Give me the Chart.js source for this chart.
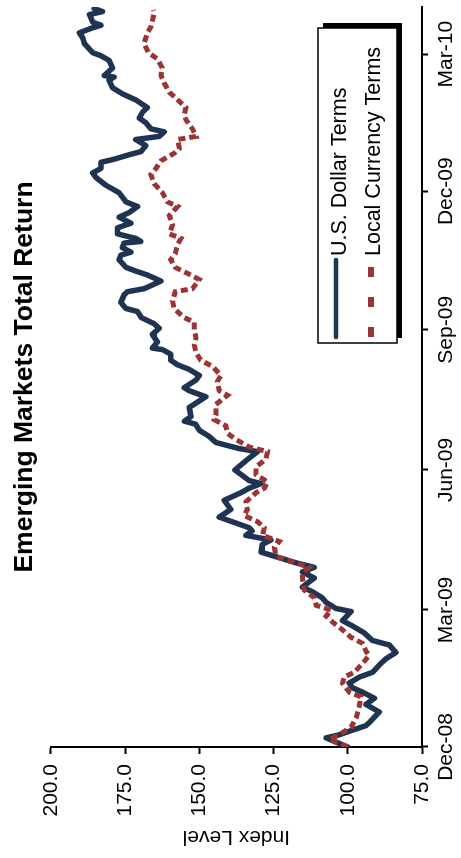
<!DOCTYPE html>
<html>
<head>
<meta charset="utf-8">
<script src="https://cdn.jsdelivr.net/npm/chart.js@4.4.1/dist/chart.umd.min.js"></script>
<style>
  html, body { margin: 0; padding: 0; background: #fff; overflow: hidden; }
  body { width: 461px; height: 858px; position: relative; }
  /* the chart is laid out landscape and turned a quarter turn to stand upright */
  #frame {
    position: absolute; left: 0; top: 0;
    width: 858px; height: 461px;
    transform-origin: 0 0;
    transform: translate(0, 858px) rotate(-90deg);
  }
  canvas { display: block; }
</style>
</head>
<body>
<div id="frame"><canvas id="chart" width="858" height="461"></canvas></div>
<script>
// Emerging markets total return index, rebased to 100 on 1 Dec 2008
const usdDates = [
  "2008-12-01","2008-12-07","2008-12-09","2008-12-12","2008-12-15","2008-12-17","2008-12-24","2008-12-29",
  "2009-01-02","2009-01-06","2009-01-09","2009-01-12","2009-01-16","2009-01-19","2009-01-25","2009-01-28",
  "2009-02-01","2009-02-06","2009-02-09","2009-02-14","2009-02-19","2009-02-22","2009-02-28",
  "2009-03-02","2009-03-06","2009-03-09","2009-03-13","2009-03-16","2009-03-22","2009-03-26","2009-03-29",
  "2009-04-01","2009-04-05","2009-04-08","2009-04-13","2009-04-16","2009-04-19","2009-04-22","2009-04-24",
  "2009-05-01","2009-05-06","2009-05-12","2009-05-17","2009-05-20","2009-05-23","2009-05-25",
  "2009-06-01","2009-06-07","2009-06-13","2009-06-15","2009-06-19","2009-06-23","2009-06-27",
  "2009-07-01","2009-07-03","2009-07-06","2009-07-12","2009-07-19","2009-07-23","2009-07-25","2009-07-30",
  "2009-08-02","2009-08-06","2009-08-09","2009-08-12","2009-08-16","2009-08-19","2009-08-20","2009-08-24","2009-08-29",
  "2009-09-02","2009-09-05","2009-09-09","2009-09-13","2009-09-15","2009-09-19","2009-09-24","2009-09-26","2009-09-28",
  "2009-10-03","2009-10-07","2009-10-10","2009-10-12","2009-10-17","2009-10-20","2009-10-22","2009-10-25","2009-10-28","2009-10-29","2009-10-31",
  "2009-11-03","2009-11-07","2009-11-10","2009-11-14","2009-11-17","2009-11-21","2009-11-24","2009-11-30",
  "2009-12-05","2009-12-10","2009-12-13","2009-12-16","2009-12-20","2009-12-22","2009-12-25","2009-12-27","2009-12-31",
  "2010-01-04","2010-01-06","2010-01-09","2010-01-11","2010-01-15","2010-01-18","2010-01-22","2010-01-25","2010-01-30",
  "2010-02-03","2010-02-07","2010-02-12","2010-02-14","2010-02-15","2010-02-20","2010-02-25","2010-02-28",
  "2010-03-02","2010-03-08","2010-03-12","2010-03-15","2010-03-18","2010-03-20","2010-03-22","2010-03-27","2010-03-29","2010-03-31"
];
const usdValues = [
  100.0,107.3,102.9,98.5,93.9,92.8,89.4,93.9,
  91.0,95.0,98.5,99.5,96.0,91.7,88.8,87.1,
  83.8,86.0,91.7,94.5,98.9,101.8,98.9,
  104.0,107.3,108.6,111.9,115.3,111.3,115.3,111.3,
  117.5,124.2,129.2,128.8,125.9,134.3,132.2,133.2,
  143.3,139.4,141.6,136.0,133.2,129.2,133.2,
  138.0,134.3,130.4,136.6,144.4,146.7,150.0,
  151.2,155.0,152.8,153.4,147.8,153.4,155.1,151.1,
  150.0,153.4,157.3,159.6,159.6,162.4,165.8,164.1,165.8,
  163.5,165.2,169.5,170.8,174.7,176.4,175.3,174.2,168.6,
  162.9,167.5,172.0,174.7,177.0,176.4,173.0,175.9,175.3,169.7,171.4,
  177.5,177.5,173.0,177.0,173.6,170.8,174.7,177.0,
  181.5,184.8,185.9,183.1,183.1,178.7,173.6,169.7,168.0,
  171.4,163.5,161.8,166.3,168.0,170.2,169.1,167.5,171.4,
  175.9,179.2,180.4,178.7,182.0,179.2,180.4,183.1,
  185.9,188.7,189.3,190.4,186.5,183.1,185.9,187.0,182.6,185.4
];

const localDates = [
  "2008-12-01","2008-12-06","2008-12-09","2008-12-14","2008-12-20","2008-12-28",
  "2009-01-03","2009-01-06","2009-01-12","2009-01-16","2009-01-19","2009-01-25","2009-01-30",
  "2009-02-02","2009-02-07","2009-02-11","2009-02-16","2009-02-21","2009-02-25",
  "2009-03-01","2009-03-04","2009-03-09","2009-03-14","2009-03-21","2009-03-25","2009-03-29",
  "2009-04-01","2009-04-05","2009-04-11","2009-04-15","2009-04-19","2009-04-24","2009-04-28",
  "2009-05-02","2009-05-06","2009-05-11","2009-05-17","2009-05-20","2009-05-24","2009-05-29",
  "2009-06-03","2009-06-08","2009-06-13","2009-06-16","2009-06-21","2009-06-25","2009-06-30",
  "2009-07-04","2009-07-07","2009-07-14","2009-07-20","2009-07-23","2009-07-29",
  "2009-08-02","2009-08-08","2009-08-12","2009-08-17","2009-08-22","2009-08-27",
  "2009-09-01","2009-09-06","2009-09-09","2009-09-15","2009-09-20","2009-09-26","2009-09-28",
  "2009-10-04","2009-10-08","2009-10-12","2009-10-17","2009-10-21","2009-10-27","2009-10-31",
  "2009-11-03","2009-11-09","2009-11-15","2009-11-21","2009-11-24","2009-11-30",
  "2009-12-06","2009-12-12","2009-12-16","2009-12-21","2009-12-26","2009-12-29",
  "2010-01-04","2010-01-06","2010-01-11","2010-01-17","2010-01-20","2010-01-25","2010-01-31",
  "2010-02-04","2010-02-10","2010-02-15","2010-02-20","2010-02-26",
  "2010-03-02","2010-03-08","2010-03-15","2010-03-19","2010-03-23","2010-03-28","2010-03-30"
];
const localValues = [
  100.0,106.2,102.9,98.9,97.2,96.1,
  95.6,99.5,101.8,101.2,97.8,95.0,92.8,
  93.9,95.0,98.9,101.8,105.1,107.3,
  105.6,110.6,111.3,114.6,115.2,115.2,113.0,
  117.5,124.2,124.7,123.1,128.7,128.1,130.4,
  134.9,133.8,134.3,130.9,128.1,127.0,130.9,
  130.9,127.6,127.0,133.2,137.7,140.5,141.1,
  145.0,144.4,144.4,140.5,143.3,143.9,
  142.7,145.6,149.5,151.1,151.7,151.1,
  151.7,151.7,155.1,158.5,159.0,158.1,152.3,
  150.0,153.9,158.1,159.6,158.1,157.3,156.2,
  160.1,159.0,160.1,157.3,160.7,162.4,
  165.2,166.3,164.6,162.9,158.4,156.7,
  157.3,151.1,152.3,154.5,155.1,154.5,157.8,
  160.1,161.8,162.9,162.5,164.1,
  167.1,168.6,167.5,166.3,165.8,165.2,165.5
];

const seriesNames = ["U.S. Dollar Terms", "Local Currency Terms"];
const tickDates = ["2008-12-01", "2009-03-01", "2009-06-01", "2009-09-01", "2009-12-01", "2010-03-01"];
const tickLabels = ["Dec-08", "Mar-09", "Jun-09", "Sep-09", "Dec-09", "Mar-10"];
const axisStart = "2008-12-01";
const axisEnd = "2010-04-01";
const valueMin = 75, valueMax = 200, valueStep = 25;

const FONT = "'Liberation Sans', Arial, Helvetica, sans-serif";
const NAVY = "#1f3353";
const BRICK = "#9c3434";

// dates become whole days counted from the start of the axis
const DAY_MS = 86400000;
function toDay(s) {
  const [y, m, d] = s.split("-").map(Number);
  const [y0, m0, d0] = axisStart.split("-").map(Number);
  return Math.round((Date.UTC(y, m - 1, d) - Date.UTC(y0, m0 - 1, d0)) / DAY_MS);
}
function points(dates, values) {
  return dates.map((d, i) => ({ x: toDay(d), y: values[i] }));
}

// framed legend with a drop shadow, drawn inside the plot
const boxedLegend = {
  id: "boxedLegend",
  afterDraw(chart, args, o) {
    const ctx = chart.ctx;
    ctx.save();
    ctx.fillStyle = "#000";
    ctx.fillRect(o.x + o.shadow, o.y + o.shadow, o.w, o.h);
    ctx.fillStyle = "#fff";
    ctx.fillRect(o.x, o.y, o.w, o.h);
    ctx.strokeStyle = "#000";
    ctx.lineWidth = 1.5;
    ctx.strokeRect(o.x, o.y, o.w, o.h);
    chart.data.datasets.forEach((ds, i) => {
      const ly = o.y + o.lineRows[i];
      ctx.beginPath();
      ctx.strokeStyle = ds.borderColor;
      ctx.lineWidth = o.sampleWidth[i];
      ctx.lineCap = o.sampleCap[i];
      ctx.setLineDash(o.sampleDash[i]);
      ctx.moveTo(o.x + o.sampleFrom, ly);
      ctx.lineTo(o.x + o.sampleTo, ly);
      ctx.stroke();
      ctx.setLineDash([]);
      ctx.fillStyle = "#000";
      ctx.font = o.fontSize + "px " + FONT;
      ctx.textBaseline = "alphabetic";
      ctx.textAlign = "left";
      ctx.fillText(ds.label, o.x + o.textX, o.y + o.textRows[i]);
    });
    ctx.restore();
  }
};

new Chart(document.getElementById("chart"), {
  type: "line",
  data: {
    datasets: [
      {
        label: seriesNames[0],
        data: points(usdDates, usdValues),
        borderColor: NAVY,
        borderWidth: 5.5,
        borderJoinStyle: "round",
        borderCapStyle: "round",
        pointRadius: 0,
        tension: 0,
        order: 1
      },
      {
        label: seriesNames[1],
        data: points(localDates, localValues),
        borderColor: BRICK,
        borderWidth: 5,
        borderDash: [7, 4],
        borderCapStyle: "butt",
        pointRadius: 0,
        tension: 0,
        order: 0
      }
    ]
  },
  options: {
    responsive: false,
    animation: false,
    devicePixelRatio: 1,
    events: [],
    layout: { padding: { left: 0, right: 7, top: 0, bottom: 0 } },
    plugins: {
      legend: { display: false },
      tooltip: { enabled: false },
      title: {
        display: true,
        text: "Emerging Markets Total Return",
        fullSize: false,
        color: "#000",
        font: { family: FONT, size: 26.5, weight: "bold" },
        padding: { top: 9, bottom: 10 }
      },
      boxedLegend: {
        x: 515, y: 318, w: 315, h: 79, shadow: 5,
        sampleFrom: 6, sampleTo: 83,
        sampleWidth: [4.5, 6], sampleCap: ["round", "butt"], sampleDash: [[], [10, 20]],
        lineRows: [18, 53],
        textX: 87, textRows: [28, 62],
        fontSize: 21.5
      }
    },
    scales: {
      x: {
        type: "linear",
        min: toDay(axisStart),
        max: toDay(axisEnd),
        afterBuildTicks: (s) => { s.ticks = tickDates.map((d) => ({ value: toDay(d) })); },
        afterFit: (s) => { s.height = 39; },
        ticks: {
          autoSkip: false,
          maxRotation: 0,
          color: "#000",
          padding: 6,
          font: { family: FONT, size: 21 },
          callback: (v, i) => tickLabels[i]
        },
        grid: { drawOnChartArea: false, drawTicks: true, tickLength: 6, tickWidth: 2, tickColor: "#000" },
        border: { display: true, color: "#000", width: 2 }
      },
      y: {
        min: valueMin,
        max: valueMax,
        afterFit: (s) => { s.width = 111; },
        ticks: {
          stepSize: valueStep,
          color: "#000",
          padding: 10,
          font: { family: FONT, size: 21 },
          callback: (v) => Number(v).toFixed(1)
        },
        title: {
          display: true,
          text: "Index Level",
          color: "#000",
          font: { family: FONT, size: 21 },
          padding: { top: 9, bottom: 0 }
        },
        grid: { drawOnChartArea: false, drawTicks: true, tickLength: 7, tickWidth: 2, tickColor: "#000" },
        border: { display: true, color: "#000", width: 2 }
      }
    }
  },
  plugins: [boxedLegend]
});
</script>
</body>
</html>
